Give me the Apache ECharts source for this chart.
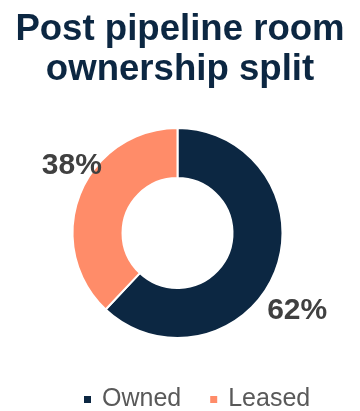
<!DOCTYPE html>
<html>
<head>
<meta charset="utf-8">
<script src="https://cdn.jsdelivr.net/npm/echarts@6/dist/echarts.min.js"></script>
<style>
html,body{margin:0;padding:0;background:#fff;}
#chart{width:360px;height:411px;}
</style>
</head>
<body>
<div id="chart"></div>
<script>
var titleText = 'Post pipeline room\nownership split';
var categories = ['Owned', 'Leased'];
var values = [62, 38];
var colors = ['#0C2742', '#FF8C69'];
var labelShift = [[-8, 39], [22, -29]];

var chart = echarts.init(document.getElementById('chart'), null, {renderer: 'canvas'});
var FONT = '"Liberation Sans", Arial, sans-serif';
chart.setOption({
  animation: false,
  title: {
    text: titleText,
    left: 'center',
    top: 5,
    textStyle: {fontFamily: FONT, fontWeight: 'bold', fontSize: 36.6, lineHeight: 40, color: '#0C2742'}
  },
  legend: {
    data: categories,
    left: 82,
    top: 387,
    padding: 0,
    icon: 'rect',
    itemWidth: 9,
    itemHeight: 9,
    itemGap: 27,
    textStyle: {fontFamily: FONT, fontSize: 25, color: '#595959', padding: [0, 0, 0, 5]}
  },
  series: [{
    type: 'pie',
    center: [177.5, 233],
    radius: [55, 105],
    startAngle: 90,
    clockwise: true,
    avoidLabelOverlap: false,
    itemStyle: {borderColor: '#fff', borderWidth: 2},
    label: {
      show: true,
      position: 'outside',
      formatter: '{d}%',
      fontFamily: FONT,
      fontWeight: 'bold',
      fontSize: 30,
      color: '#404040',
      distanceToLabelLine: 0
    },
    labelLine: {show: false, length: 0, length2: 0},
    labelLayout: function (p) {
      return {dx: labelShift[p.dataIndex][0], dy: labelShift[p.dataIndex][1]};
    },
    emphasis: {disabled: true},
    data: categories.map(function (c, i) {
      return {name: c, value: values[i], itemStyle: {color: colors[i]}};
    })
  }]
});
</script>
</body>
</html>
